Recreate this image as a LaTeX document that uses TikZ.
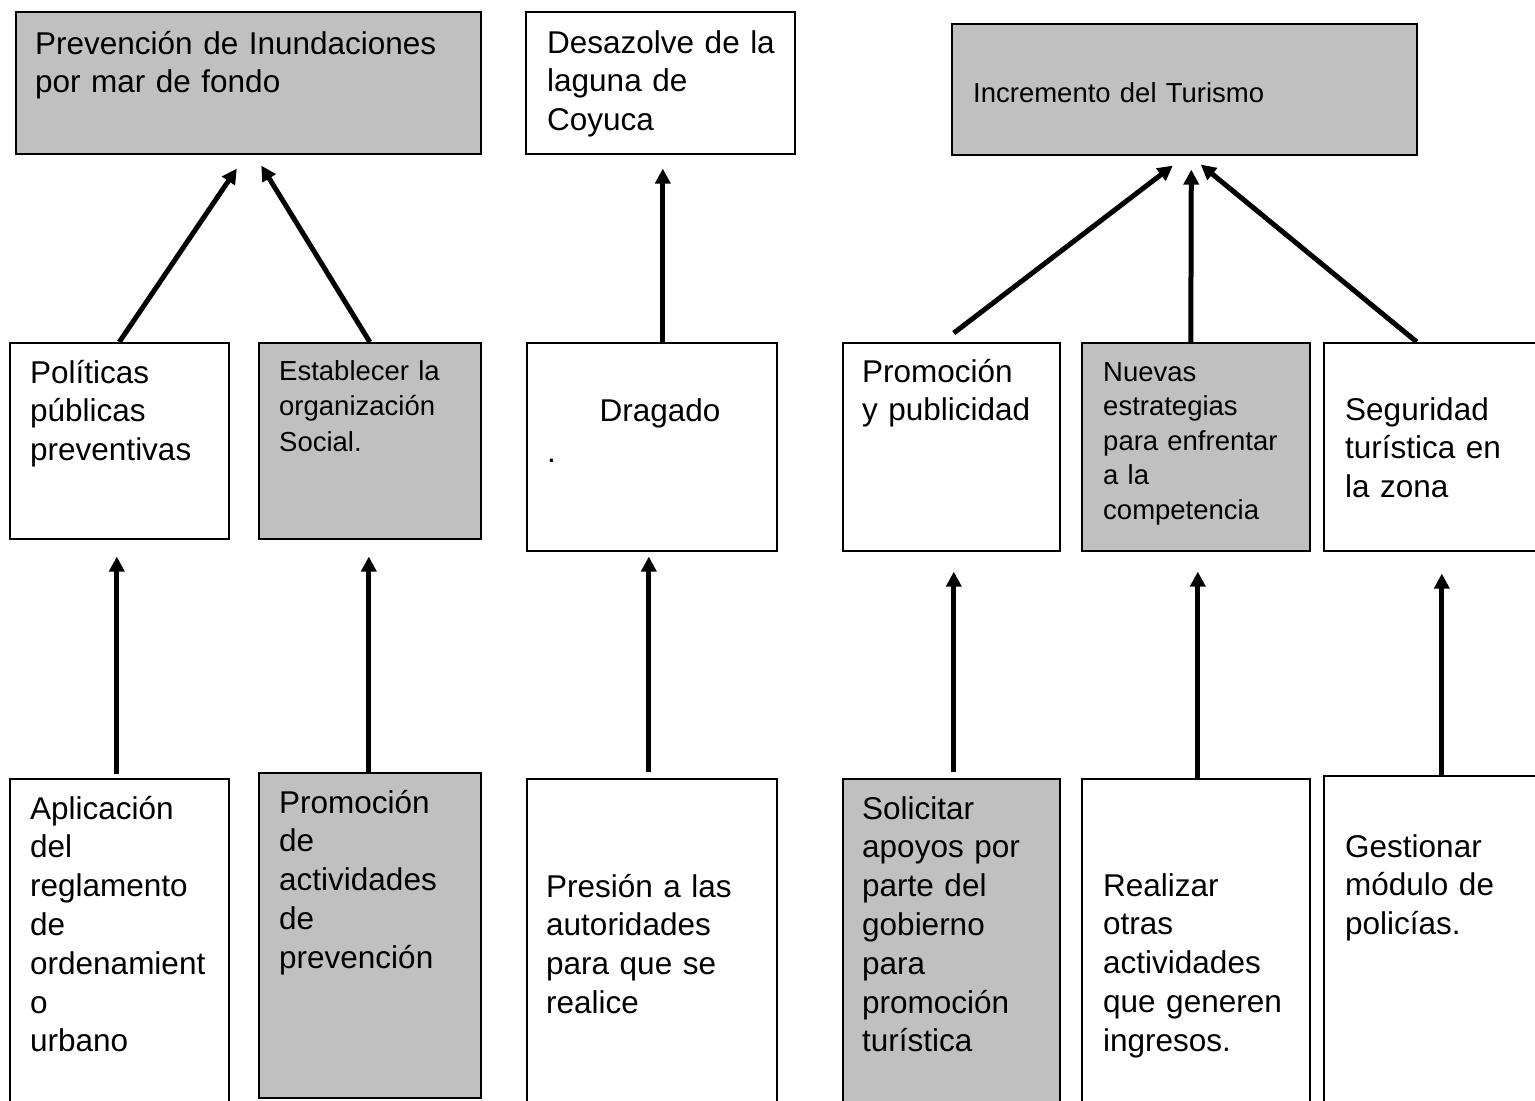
\documentclass[tikz,border=0pt]{standalone}
\usepackage{fontspec}
\setmainfont{Liberation Sans}
\usetikzlibrary{arrows.meta}

\definecolor{boxgray}{HTML}{C0C0C0}
\newcommand\txtbig{\fontsize{31.5}{38.8}\selectfont}
\newcommand\txtsmall{\fontsize{27.5}{35.5}\selectfont}

\tikzset{
  box/.style={draw, line width=1.6pt, anchor=north west, inner sep=0pt},
  graybox/.style={box, fill=boxgray},
  txt/.style={anchor=base west, inner sep=0pt, align=left, text width=420pt, font=\txtbig},
  txtsm/.style={txt, font=\txtsmall},
  link/.style={line width=5pt, -{Triangle[length=15pt,width=15pt]}}
}

\begin{document}
\begin{tikzpicture}[x=1pt,y=-1pt]

    \useasboundingbox (0,0) rectangle (1535,1101);
    \clip (0,0) rectangle (1535,1101);

    % top row
    \node[graybox, minimum width=465pt, minimum height=142pt] (prev) at (15,11) {};
    \node[box, minimum width=269pt, minimum height=142pt] (desaz) at (525,11) {};
    \node[graybox, minimum width=465pt, minimum height=131pt] (incr) at (951,23) {};

    \node[txt] (prevt) at ([shift={(20,43)}]prev.north west) {Prevención de Inundaciones\\por mar de fondo};
    \node[txt] (desazt) at ([shift={(22,42)}]desaz.north west) {Desazolve de la\\laguna de\\Coyuca};
    \node[txtsm] (incrt) at ([shift={(22,79)}]incr.north west) {Incremento del Turismo};

    % middle row
    \node[box, minimum width=219pt, minimum height=196pt] (pol) at (9,342) {};
    \node[graybox, minimum width=222pt, minimum height=196pt] (est) at (258,342) {};
    \node[box, minimum width=250pt, minimum height=208pt] (drag) at (526,342) {};
    \node[box, minimum width=217pt, minimum height=208pt] (prom) at (842,342) {};
    \node[graybox, minimum width=228pt, minimum height=208pt] (nuev) at (1081,342) {};
    \node[box, minimum width=217pt, minimum height=208pt] (seg) at (1323,342) {};

    \node[txt] (polt) at ([shift={(21,41)}]pol.north west) {Políticas\\públicas\\preventivas};
    \node[txtsm] (estt) at ([shift={(21,38)}]est.north west) {Establecer la\\organización\\Social.};
    \node[inner sep=0pt, anchor=base, font=\txtbig] (dragt) at ([shift={(134,79)}]drag.north west) {Dragado};
    \node[txt] (dragdot) at ([shift={(21,120)}]drag.north west) {.};
    \node[txt] (promt) at ([shift={(20,40)}]prom.north west) {Promoción\\y publicidad};
    \node[txtsm, font=\fontsize{27.5}{34.5}\selectfont] (nuevt) at ([shift={(22,39)}]nuev.north west) {Nuevas\\estrategias\\para enfrentar\\a la\\competencia};
    \node[txt] (segt) at ([shift={(22,78)}]seg.north west) {Seguridad\\turística en\\la zona};

    % bottom row
    \node[box, minimum width=219pt, minimum height=340pt] (apl) at (9,778) {};
    \node[graybox, minimum width=222pt, minimum height=325pt] (pact) at (258,772) {};
    \node[box, minimum width=250pt, minimum height=340pt] (pres) at (526,778) {};
    \node[graybox, minimum width=217pt, minimum height=340pt] (sol) at (842,778) {};
    \node[box, minimum width=228pt, minimum height=340pt] (real) at (1081,778) {};
    \node[box, minimum width=217pt, minimum height=343pt] (gest) at (1323,775) {};

    \node[txt] (aplt) at ([shift={(21,41)}]apl.north west) {Aplicación\\del\\reglamento\\de\\ordenamient\\o\\urbano};
    \node[txt] (pactt) at ([shift={(21,41)}]pact.north west) {Promoción\\de\\actividades\\de\\prevención};
    \node[txt] (prest) at ([shift={(20,119)}]pres.north west) {Presión a las\\autoridades\\para que se\\realice};
    \node[txt] (solt) at ([shift={(20,41)}]sol.north west) {Solicitar\\apoyos por\\parte del\\gobierno\\para\\promoción\\turística};
    \node[txt] (realt) at ([shift={(22,118)}]real.north west) {Realizar\\otras\\actividades\\que generen\\ingresos.};
    \node[txt] (gestt) at ([shift={(22,82)}]gest.north west) {Gestionar\\módulo de\\policías.};

    % arrows to the top row
    \draw[link] (pol.north) -- ([shift={(-11.5,14)}]prev.south);
    \draw[link] (est.north) -- ([shift={(13,11)}]prev.south);
    \draw[link] ([shift={(11,0)}]drag.north) -- ([shift={(2.5,14)}]desaz.south);
    \draw[link] ([shift={(2.5,-9)}]prom.north) -- ([shift={(-11.5,10)}]incr.south);
    \draw[link] ([shift={(-5,0)}]nuev.north) -- ([shift={(7,14)}]incr.south);
    \draw[link] ([shift={(-15.5,0)}]seg.north) -- ([shift={(16.5,9)}]incr.south);

    % arrows to the middle row
    \draw[link] ([shift={(-2.5,-4)}]apl.north) -- ([shift={(-2.5,17)}]pol.south);
    \draw[link] ([shift={(-1,0)}]pact.north) -- ([shift={(-1,17)}]est.south);
    \draw[link] ([shift={(-3,-6)}]pres.north) -- ([shift={(-3,5)}]drag.south);
    \draw[link] ([shift={(2.5,-6)}]sol.north) -- ([shift={(2.5,20)}]prom.south);
    \draw[link] ([shift={(2,0)}]real.north) -- ([shift={(2,20)}]nuev.south);
    \draw[link] ([shift={(9.5,0)}]gest.north) -- ([shift={(9.5,22)}]seg.south);

\end{tikzpicture}
\end{document}
